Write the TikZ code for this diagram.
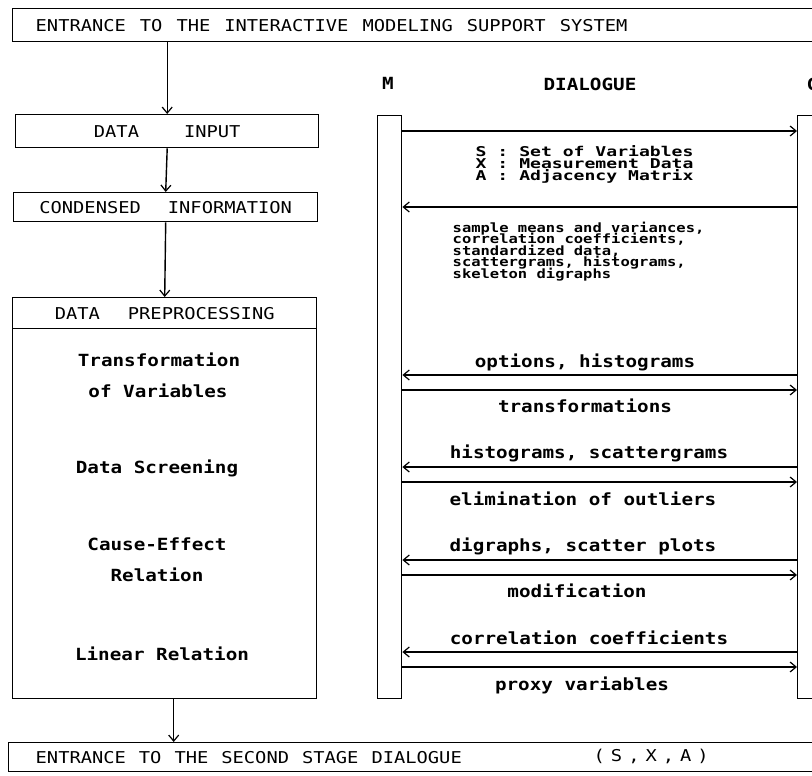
\documentclass[tikz,border=0pt]{standalone}
\usepackage{fontspec}
\usetikzlibrary{arrows.meta}
\newfontfamily\dmono[FakeStretch=1.15]{DejaVu Sans Mono}
\newfontfamily\dmonow[FakeStretch=1.34]{DejaVu Sans Mono}
\newfontfamily\dmonos[FakeStretch=1.21]{DejaVu Sans Mono}
\newcommand{\capsfnt}{\dmono\fontsize{16.3}{18}\selectfont}
\newcommand{\dlgfnt}{\dmono\bfseries\fontsize{16.75}{18}\selectfont}
\newcommand{\sxafnt}{\dmonow\bfseries\fontsize{13.5}{12}\selectfont\lineskiplimit=-20pt\relax}
\newcommand{\smpfnt}{\dmonos\bfseries\fontsize{12.8}{11.5}\selectfont\lineskiplimit=-20pt\relax}
\begin{document}
\begin{tikzpicture}[x=1pt,y=-1pt,line width=1.4pt,
  >={Straight Barb[length=6pt,width=10pt,line width=1.2pt]},
  box/.style={draw,inner sep=0pt,font=\capsfnt},
  bar/.style={draw,inner sep=0pt,minimum width=24pt,minimum height=583pt,anchor=north west},
  lbl/.style={inner sep=0pt,font=\dlgfnt,anchor=base},
  flow/.style={->}]
\useasboundingbox (0,0) rectangle (812,776);
\clip (0,0) rectangle (812,776);

% left column
\node[box,anchor=north west,minimum height=33pt,text width=800pt,align=left,inner xsep=23pt] (top) at (12,8) {\spaceskip=14pt\relax ENTRANCE TO THE INTERACTIVE MODELING SUPPORT SYSTEM};
\node[box,anchor=north west,minimum width=303pt,minimum height=33pt] (din) at (15,114) {DATA\hspace{45pt}INPUT};
\node[box,anchor=north west,minimum width=304pt,minimum height=29pt] (cond) at (13,192) {CONDENSED\hspace{27pt}INFORMATION};
\node[box,anchor=north west,minimum width=304pt,minimum height=31pt] (pre) at (12,297) {DATA\hspace{28pt}PREPROCESSING};
\node[box,anchor=north west,minimum width=304pt,minimum height=370pt] (body) at (12,328) {};
\node[lbl] (t1) at (159,366) {Transformation};
\node[lbl] (t2) at (158,397) {of Variables};
\node[lbl] (t3) at (157,473) {Data Screening};
\node[lbl] (t4) at (157,550) {Cause-Effect};
\node[lbl] (t5) at (157,581) {Relation};
\node[lbl] (t6) at (162,660) {Linear Relation};
\node[box,anchor=north west,minimum height=29pt,text width=800pt,align=left,inner xsep=27pt] (bot) at (8,742) {\spaceskip=13pt\relax ENTRANCE TO THE SECOND STAGE DIALOGUE};
\node[inner sep=0pt,font=\capsfnt,anchor=west] (sxa) at (593,756.5) {\spaceskip=6pt\relax ( S , X , A )};

\draw[flow] (top.south -| din.north) -- (din.north);
\draw[flow] (din.south) -- (cond.north);
\draw[flow] (cond.south) -- (pre.north);
\draw[flow] ([xshift=9pt]body.south) -- ([xshift=9pt]body.south |- bot.north);

% dialogue column
\node[lbl] (mlbl) at (388,90) {M};
\node[lbl] (dlbl) at (590,91) {DIALOGUE};
\node[lbl,anchor=base west] (clbl) at (806,91) {C};
\node[bar] (mbar) at (377,115) {};
\node[bar,minimum width=40pt] (cbar) at (797,115) {};

\coordinate (y1) at (0,131);
\coordinate (y2) at (0,207);
\coordinate (y3) at (0,375);
\coordinate (y4) at (0,390);
\coordinate (y5) at (0,467);
\coordinate (y6) at (0,482);
\coordinate (y7) at (0,560);
\coordinate (y8) at (0,575);
\coordinate (y9) at (0,652);
\coordinate (y10) at (0,667);

\draw[->] (mbar.east |- y1) -- (cbar.west |- y1);
\draw[->] (cbar.west |- y2) -- (mbar.east |- y2);
\draw[->] (cbar.west |- y3) -- (mbar.east |- y3);
\draw[->] (mbar.east |- y4) -- (cbar.west |- y4);
\draw[->] (cbar.west |- y5) -- (mbar.east |- y5);
\draw[->] (mbar.east |- y6) -- (cbar.west |- y6);
\draw[->] (cbar.west |- y7) -- (mbar.east |- y7);
\draw[->] (mbar.east |- y8) -- (cbar.west |- y8);
\draw[->] (cbar.west |- y9) -- (mbar.east |- y9);
\draw[->] (mbar.east |- y10) -- (cbar.west |- y10);

\node[inner sep=0pt,font=\sxafnt,anchor=base west,align=left] (sxadef) at (475,180) {S : Set of Variables\\X : Measurement Data\\A : Adjacency Matrix};
\node[inner sep=0pt,font=\smpfnt,anchor=base west,align=left] (smp) at (452,278) {sample means and variances,\\correlation coefficients,\\standardized data,\\scattergrams, histograms,\\skeleton digraphs};
\node[lbl] (d1) at (585,367) {options, histograms};
\node[lbl] (d2) at (585,412) {transformations};
\node[lbl] (d3) at (589,458) {histograms, scattergrams};
\node[lbl] (d4) at (583,505) {elimination of outliers};
\node[lbl] (d5) at (583,551) {digraphs, scatter plots};
\node[lbl] (d6) at (577,597) {modification};
\node[lbl] (d7) at (589,644) {correlation coefficients};
\node[lbl] (d8) at (582,690) {proxy variables};
\end{tikzpicture}
\end{document}
